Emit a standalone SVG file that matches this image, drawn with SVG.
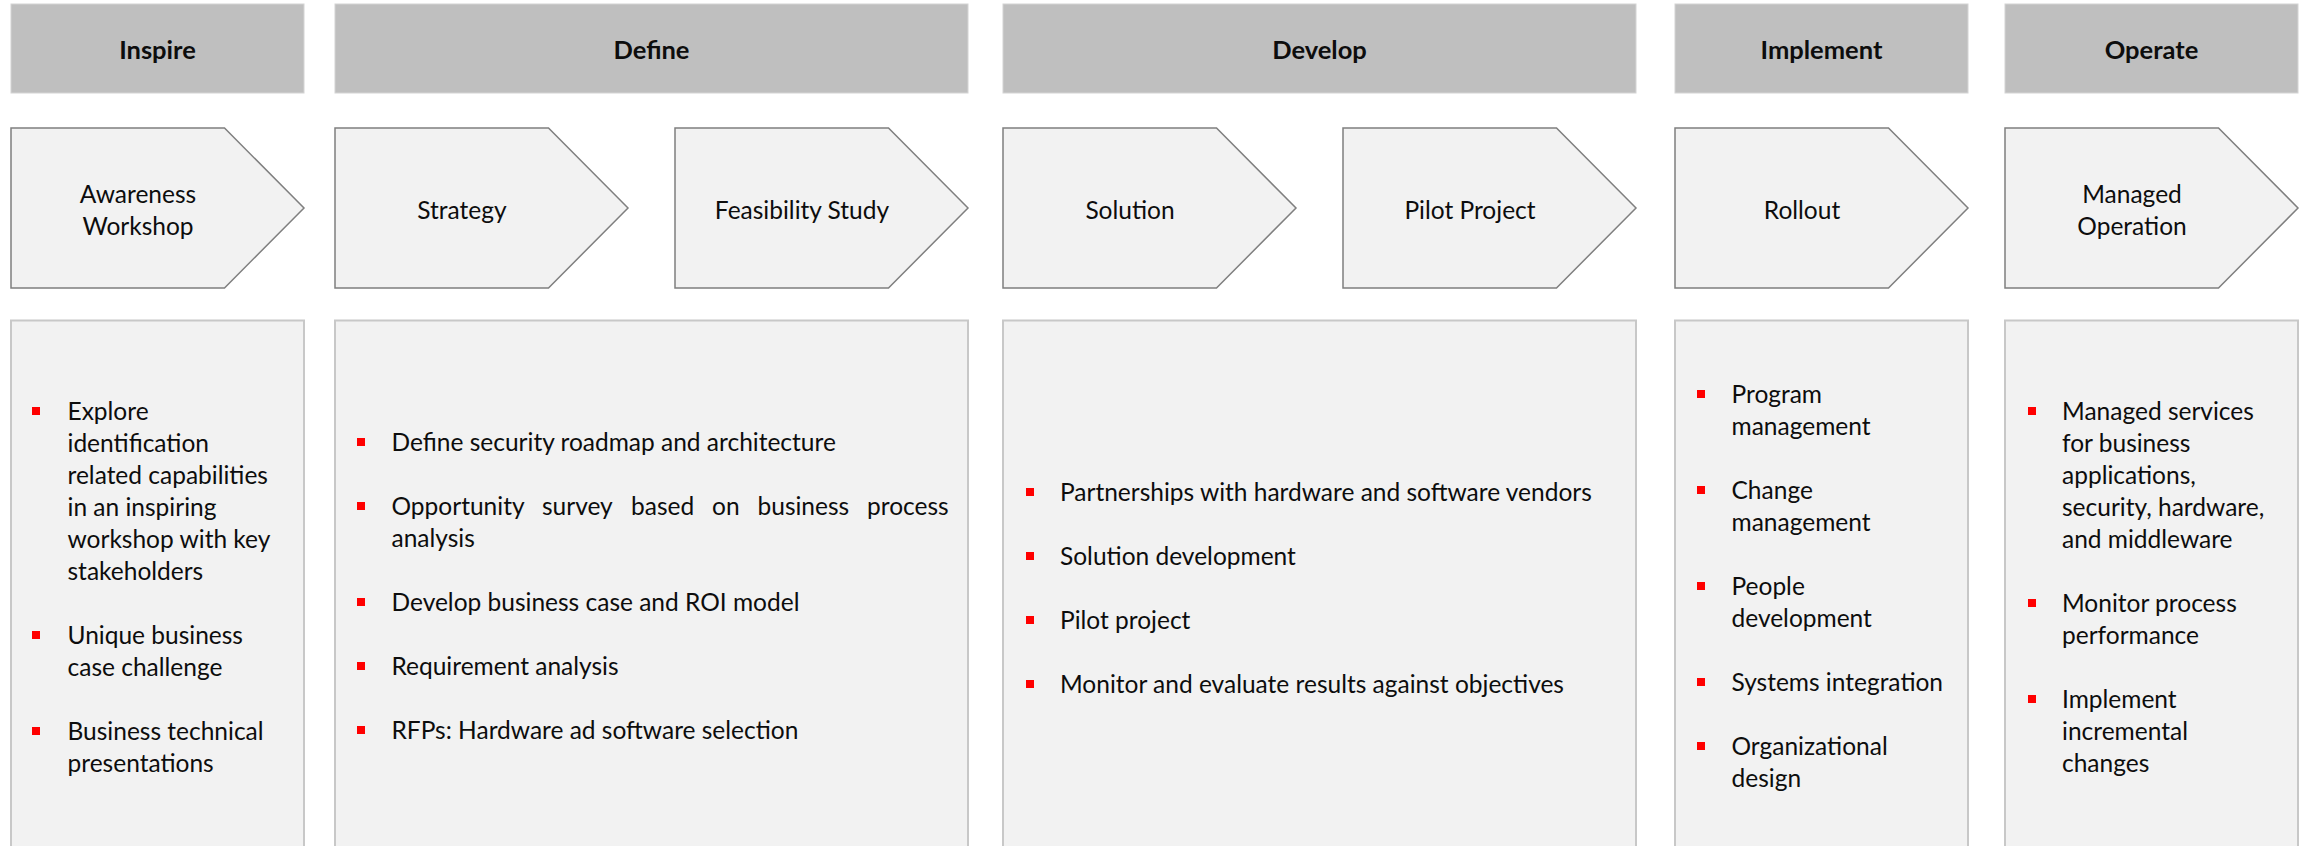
<svg xmlns="http://www.w3.org/2000/svg" width="2300" height="846" viewBox="0 0 2300 846">
<style>
.hdr{fill:#bfbfbf;stroke:#d4d4d4;stroke-width:1}
.htxt{font-family:Lato,"Liberation Sans",sans-serif;font-weight:bold;font-size:25.5px;fill:#0d0d0d;text-anchor:middle}
.pent{fill:#f2f2f2;stroke:#7f7f7f;stroke-width:1.5}
.ptxt{font-family:Lato,"Liberation Sans",sans-serif;font-size:24.5px;fill:#0d0d0d;text-anchor:middle}
.box{fill:#f2f2f2;stroke:#c8c8c8;stroke-width:2}
.btxt{font-family:Lato,"Liberation Sans",sans-serif;font-size:24.5px;fill:#0d0d0d}
.bul{fill:#ff0000}
</style>
<rect width="2300" height="846" fill="#ffffff"/>

<g id="phase-inspire">
<rect class="hdr" x="11" y="4" width="293" height="89"/>
<text class="htxt" x="157.5" y="58.5">Inspire</text>
</g>
<g id="phase-define">
<rect class="hdr" x="335" y="4" width="633" height="89"/>
<text class="htxt" x="651.5" y="58.5">Define</text>
</g>
<g id="phase-develop">
<rect class="hdr" x="1003" y="4" width="633" height="89"/>
<text class="htxt" x="1319.5" y="58.5">Develop</text>
</g>
<g id="phase-implement">
<rect class="hdr" x="1675" y="4" width="293" height="89"/>
<text class="htxt" x="1821.5" y="58.5">Implement</text>
</g>
<g id="phase-operate">
<rect class="hdr" x="2005" y="4" width="293" height="89"/>
<text class="htxt" x="2151.5" y="58.5">Operate</text>
</g>

<g id="step-awareness">
<polygon class="pent" points="11,128 224.5,128 304,208 224.5,288 11,288"/>
<text class="ptxt" x="138" y="202.5">Awareness</text>
<text class="ptxt" x="138" y="234.5">Workshop</text>
</g>
<g id="step-strategy">
<polygon class="pent" points="335,128 548.5,128 628,208 548.5,288 335,288"/>
<text class="ptxt" x="462" y="218.5">Strategy</text>
</g>
<g id="step-feasibility">
<polygon class="pent" points="675,128 888.5,128 968,208 888.5,288 675,288"/>
<text class="ptxt" x="802" y="218.5">Feasibility Study</text>
</g>
<g id="step-solution">
<polygon class="pent" points="1003,128 1216.5,128 1296,208 1216.5,288 1003,288"/>
<text class="ptxt" x="1130" y="218.5">Solution</text>
</g>
<g id="step-pilot">
<polygon class="pent" points="1343,128 1556.5,128 1636,208 1556.5,288 1343,288"/>
<text class="ptxt" x="1470" y="218.5">Pilot Project</text>
</g>
<g id="step-rollout">
<polygon class="pent" points="1675,128 1888.5,128 1968,208 1888.5,288 1675,288"/>
<text class="ptxt" x="1802" y="218.5">Rollout</text>
</g>
<g id="step-managed">
<polygon class="pent" points="2005,128 2218.5,128 2298,208 2218.5,288 2005,288"/>
<text class="ptxt" x="2132" y="202.5">Managed</text>
<text class="ptxt" x="2132" y="234.5">Operation</text>
</g>

<g id="connectors"></g>

<g id="details-inspire">
<rect class="box" x="11" y="320.5" width="293" height="600"/>
<rect class="bul" x="32" y="407" width="8" height="8"/>
<rect class="bul" x="32" y="631" width="8" height="8"/>
<rect class="bul" x="32" y="727" width="8" height="8"/>
<text class="btxt">
<tspan x="67.5" y="420">Explore</tspan>
<tspan x="67.5" y="452">identification</tspan>
<tspan x="67.5" y="484">related capabilities</tspan>
<tspan x="67.5" y="516">in an inspiring</tspan>
<tspan x="67.5" y="548">workshop with key</tspan>
<tspan x="67.5" y="580">stakeholders</tspan>
<tspan x="67.5" y="644">Unique business</tspan>
<tspan x="67.5" y="676">case challenge</tspan>
<tspan x="67.5" y="740">Business technical</tspan>
<tspan x="67.5" y="772">presentations</tspan>
</text>
</g>

<g id="details-define">
<rect class="box" x="335" y="320.5" width="633" height="600"/>
<rect class="bul" x="357" y="438" width="8" height="8"/>
<rect class="bul" x="357" y="502" width="8" height="8"/>
<rect class="bul" x="357" y="598" width="8" height="8"/>
<rect class="bul" x="357" y="662" width="8" height="8"/>
<rect class="bul" x="357" y="726" width="8" height="8"/>
<text class="btxt">
<tspan x="391.5" y="451">Define security roadmap and architecture</tspan>
<tspan x="391.5" y="515">Opportunity</tspan><tspan x="542" y="515">survey</tspan><tspan x="631" y="515">based</tspan><tspan x="712" y="515">on</tspan><tspan x="757.5" y="515">business</tspan><tspan x="867" y="515">process</tspan>
<tspan x="391.5" y="547">analysis</tspan>
<tspan x="391.5" y="611">Develop business case and ROI model</tspan>
<tspan x="391.5" y="675">Requirement analysis</tspan>
<tspan x="391.5" y="739">RFPs: Hardware ad software selection</tspan>
</text>
</g>

<g id="details-develop">
<rect class="box" x="1003" y="320.5" width="633" height="600"/>
<rect class="bul" x="1026" y="488" width="8" height="8"/>
<rect class="bul" x="1026" y="552" width="8" height="8"/>
<rect class="bul" x="1026" y="616" width="8" height="8"/>
<rect class="bul" x="1026" y="680" width="8" height="8"/>
<text class="btxt">
<tspan x="1060" y="501">Partnerships with hardware and software vendors</tspan>
<tspan x="1060" y="565">Solution development</tspan>
<tspan x="1060" y="629">Pilot project</tspan>
<tspan x="1060" y="693">Monitor and evaluate results against objectives</tspan>
</text>
</g>

<g id="details-implement">
<rect class="box" x="1675" y="320.5" width="293" height="600"/>
<rect class="bul" x="1697" y="390" width="8" height="8"/>
<rect class="bul" x="1697" y="486" width="8" height="8"/>
<rect class="bul" x="1697" y="582" width="8" height="8"/>
<rect class="bul" x="1697" y="678" width="8" height="8"/>
<rect class="bul" x="1697" y="742" width="8" height="8"/>
<text class="btxt">
<tspan x="1731.5" y="403">Program</tspan>
<tspan x="1731.5" y="435">management</tspan>
<tspan x="1731.5" y="499">Change</tspan>
<tspan x="1731.5" y="531">management</tspan>
<tspan x="1731.5" y="595">People</tspan>
<tspan x="1731.5" y="627">development</tspan>
<tspan x="1731.5" y="691">Systems integration</tspan>
<tspan x="1731.5" y="755">Organizational</tspan>
<tspan x="1731.5" y="787">design</tspan>
</text>
</g>

<g id="details-operate">
<rect class="box" x="2005" y="320.5" width="293" height="600"/>
<rect class="bul" x="2028" y="407" width="8" height="8"/>
<rect class="bul" x="2028" y="599" width="8" height="8"/>
<rect class="bul" x="2028" y="695" width="8" height="8"/>
<text class="btxt">
<tspan x="2062" y="420">Managed services</tspan>
<tspan x="2062" y="452">for business</tspan>
<tspan x="2062" y="484">applications,</tspan>
<tspan x="2062" y="516">security, hardware,</tspan>
<tspan x="2062" y="548">and middleware</tspan>
<tspan x="2062" y="612">Monitor process</tspan>
<tspan x="2062" y="644">performance</tspan>
<tspan x="2062" y="708">Implement</tspan>
<tspan x="2062" y="740">incremental</tspan>
<tspan x="2062" y="772">changes</tspan>
</text>
</g>
</svg>
